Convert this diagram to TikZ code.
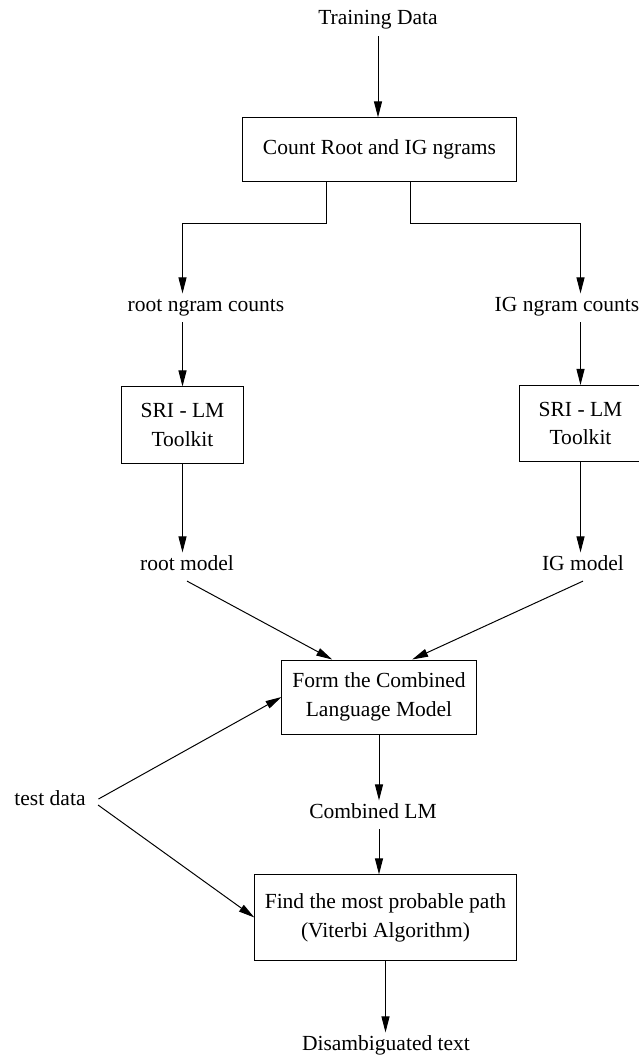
\documentclass[tikz,border=0pt]{standalone}
\usepackage{fontspec}
\setmainfont{Liberation Serif}
\usetikzlibrary{calc,arrows.meta}

\begin{document}
\begin{tikzpicture}[x=0.025cm,y=-0.025cm,font=\fontsize{15.3}{20.5}\selectfont,
	box/.style={draw,line width=0.7pt,inner sep=0pt,align=center},
	txt/.style={inner sep=0pt,outer sep=0.2cm,text height=0.68em,text depth=0.22em,anchor=base},
	arr/.style={line width=0.7pt,-{Triangle[length=0.4cm,width=0.2cm]}}]

	\useasboundingbox (0,0) rectangle (638,1056);

	% boxes
	\node[box,minimum width=6.83cm,minimum height=1.58cm] (count) at (379.5,149.5) {Count Root and IG ngrams};
	\node[box,minimum width=3.03cm,minimum height=1.9cm] (sril) at (182.5,425) {SRI - LM\\Toolkit};
	\node[box,minimum width=3.03cm,minimum height=1.9cm] (srir) at (580.5,423.5) {SRI - LM\\Toolkit};
	\node[box,minimum width=4.85cm,minimum height=1.85cm] (form) at (379,697) {Form the Combined\\Language Model};
	\node[box,minimum width=6.53cm,minimum height=2.13cm] (find) at (385.5,917.5) {Find the most probable path\\(Viterbi Algorithm)};

	% labels
	\node[txt] (train) at (378,25) {Training Data};
	\node[txt] (rootc) at (206,311) {root ngram counts};
	\node[txt] (igc) at (567,311) {IG ngram counts};
	\node[txt] (rootm) at (187,570) {root model};
	\node[txt] (igm) at (583,570) {IG model};
	\node[txt] (test) at (50,805) {test data};
	\node[txt] (comb) at (373,818) {Combined LM};
	\node[txt] (dis) at (386,1050) {Disambiguated text};

	% arrows
	\draw[arr] (train.south) -- (count.north -| train.south);
	\draw[arr] ($(count.south west)!0.308!(count.south east)$) -- ++(0,42) -| (rootc.north -| sril.north);
	\draw[arr] ($(count.south west)!0.612!(count.south east)$) -- ++(0,42) -| (igc.north -| srir.north);
	\draw[arr] (rootc.south -| sril.north) -- (sril.north);
	\draw[arr] (igc.south -| srir.north) -- (srir.north);
	\draw[arr] (sril.south) -- (rootm.north -| sril.south);
	\draw[arr] (srir.south) -- (igm.north -| srir.south);
	\draw[arr] (rootm.south) -- ($(form.north west)!0.26!(form.north east)$);
	\draw[arr] (igm.south) -- ($(form.north west)!0.67!(form.north east)$);
	\draw[arr,shorten <=4pt] (test.east) -- (form.west);
	\draw[arr,shorten <=4pt] (test.east) -- (find.west);
	\draw[arr] (form.south) -- (comb.north -| form.south);
	\draw[arr] (comb.south -| form.south) -- (find.north -| form.south);
	\draw[arr] (find.south) -- (dis.north -| find.south);
\end{tikzpicture}
\end{document}
